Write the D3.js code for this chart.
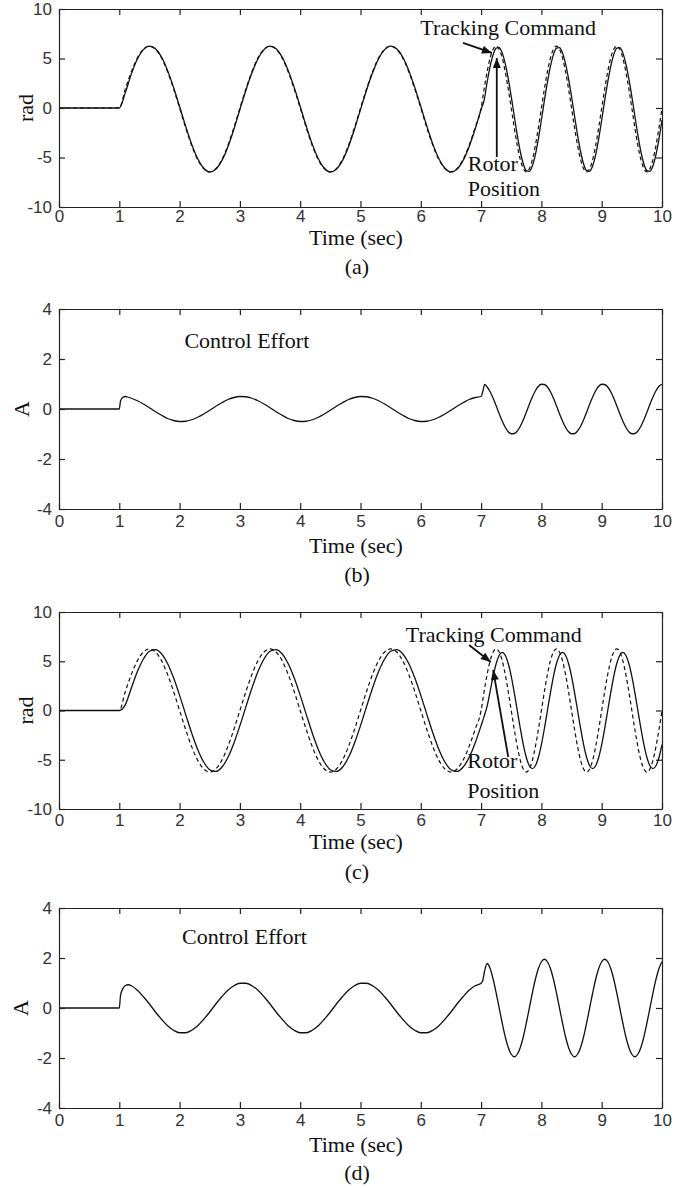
<!DOCTYPE html>
<html>
<head>
<meta charset="utf-8">
<script src="https://cdn.jsdelivr.net/npm/d3@7"></script>
<style>
  body { margin: 0; background: #fff; }
  .tick text { font-family: "Liberation Sans", Arial, sans-serif; font-size: 17px; fill: #333; }
  .tick line, .domain { stroke: #222; stroke-width: 1.2; }
  .serif { font-family: "Liberation Serif", "Times New Roman", serif; font-size: 22px; fill: #111; }
</style>
</head>
<body>
<div id="fig"></div>
<script>
// ---- data ----

// time samples for the position plots (a) and (c)
const tPos = [0,
  1.0, 1.1, 1.2, 1.3, 1.4, 1.5, 1.6, 1.7, 1.8, 1.9,
  2.0, 2.1, 2.2, 2.3, 2.4, 2.5, 2.6, 2.7, 2.8, 2.9,
  3.0, 3.1, 3.2, 3.3, 3.4, 3.5, 3.6, 3.7, 3.8, 3.9,
  4.0, 4.1, 4.2, 4.3, 4.4, 4.5, 4.6, 4.7, 4.8, 4.9,
  5.0, 5.1, 5.2, 5.3, 5.4, 5.5, 5.6, 5.7, 5.8, 5.9,
  6.0, 6.1, 6.2, 6.3, 6.4, 6.5, 6.6, 6.7, 6.8, 6.9,
  7.0,
  7.05, 7.1, 7.15, 7.2, 7.25, 7.3, 7.35, 7.4, 7.45, 7.5, 7.55, 7.6, 7.65, 7.7, 7.75, 7.8, 7.85, 7.9, 7.95, 8.0,
  8.05, 8.1, 8.15, 8.2, 8.25, 8.3, 8.35, 8.4, 8.45, 8.5, 8.55, 8.6, 8.65, 8.7, 8.75, 8.8, 8.85, 8.9, 8.95, 9.0,
  9.05, 9.1, 9.15, 9.2, 9.25, 9.3, 9.35, 9.4, 9.45, 9.5, 9.55, 9.6, 9.65, 9.7, 9.75, 9.8, 9.85, 9.9, 9.95, 10.0];

// (a) tracking command (dashed) and rotor position (solid), rad
const cmdA = [0,
  0, 1.93, 3.67, 5.06, 5.94, 6.25, 5.94, 5.06, 3.67, 1.93,
  0, -1.99, -3.79, -5.22, -6.13, -6.45, -6.13, -5.22, -3.79, -1.99,
  0, 1.93, 3.67, 5.06, 5.94, 6.25, 5.94, 5.06, 3.67, 1.93,
  0, -1.99, -3.79, -5.22, -6.13, -6.45, -6.13, -5.22, -3.79, -1.99,
  0, 1.93, 3.67, 5.06, 5.94, 6.25, 5.94, 5.06, 3.67, 1.93,
  0, -1.99, -3.79, -5.22, -6.13, -6.45, -6.13, -5.22, -3.79, -1.99,
  0,
  1.93, 3.67, 5.06, 5.94, 6.25, 5.94, 5.06, 3.67, 1.93, 0, -1.99, -3.79, -5.22, -6.13, -6.45, -6.13, -5.22, -3.79, -1.99, 0,
  1.93, 3.67, 5.06, 5.94, 6.25, 5.94, 5.06, 3.67, 1.93, 0, -1.99, -3.79, -5.22, -6.13, -6.45, -6.13, -5.22, -3.79, -1.99, 0,
  1.93, 3.67, 5.06, 5.94, 6.25, 5.94, 5.06, 3.67, 1.93, 0, -1.99, -3.79, -5.22, -6.13, -6.45, -6.13, -5.22, -3.79, -1.99, 0];

const rotA = [0,
  0, 1.55, 3.45, 4.95, 5.9, 6.25, 5.98, 5.15, 3.8, 2.08,
  0.15, -1.83, -3.65, -5.12, -6.08, -6.45, -6.18, -5.32, -3.93, -2.15,
  -0.15, 1.8, 3.55, 4.98, 5.9, 6.25, 5.98, 5.15, 3.8, 2.08,
  0.15, -1.83, -3.65, -5.12, -6.08, -6.45, -6.18, -5.32, -3.93, -2.15,
  -0.15, 1.8, 3.55, 4.98, 5.9, 6.25, 5.98, 5.15, 3.8, 2.08,
  0.15, -1.83, -3.65, -5.12, -6.08, -6.45, -6.18, -5.32, -3.93, -2.15,
  -0.15,
  0.77, 2.62, 4.21, 5.39, 6.04, 6.1, 5.57, 4.48, 2.96, 1.15, -0.81, -2.75, -4.42, -5.65, -6.33, -6.4, -5.84, -4.7, -3.11, -1.21,
  0.77, 2.62, 4.21, 5.39, 6.04, 6.1, 5.57, 4.48, 2.96, 1.15, -0.81, -2.75, -4.42, -5.65, -6.33, -6.4, -5.84, -4.7, -3.11, -1.21,
  0.77, 2.62, 4.21, 5.39, 6.04, 6.1, 5.57, 4.48, 2.96, 1.15, -0.81, -2.75, -4.42, -5.65, -6.33, -6.4, -5.84, -4.7, -3.11, -1.21];

// (c) tracking command (dashed) and rotor position (solid), rad
const cmdC = [0,
  0, 1.93, 3.67, 5.06, 5.94, 6.25, 5.94, 5.06, 3.67, 1.93,
  0, -1.93, -3.67, -5.06, -5.94, -6.25, -5.94, -5.06, -3.67, -1.93,
  0, 1.93, 3.67, 5.06, 5.94, 6.25, 5.94, 5.06, 3.67, 1.93,
  0, -1.93, -3.67, -5.06, -5.94, -6.25, -5.94, -5.06, -3.67, -1.93,
  0, 1.93, 3.67, 5.06, 5.94, 6.25, 5.94, 5.06, 3.67, 1.93,
  0, -1.93, -3.67, -5.06, -5.94, -6.25, -5.94, -5.06, -3.67, -1.93,
  0,
  1.93, 3.67, 5.06, 5.94, 6.25, 5.94, 5.06, 3.67, 1.93, 0, -1.93, -3.67, -5.06, -5.94, -6.25, -5.94, -5.06, -3.67, -1.93, 0,
  1.93, 3.67, 5.06, 5.94, 6.25, 5.94, 5.06, 3.67, 1.93, 0, -1.93, -3.67, -5.06, -5.94, -6.25, -5.94, -5.06, -3.67, -1.93, 0,
  1.93, 3.67, 5.06, 5.94, 6.25, 5.94, 5.06, 3.67, 1.93, 0, -1.93, -3.67, -5.06, -5.94, -6.25, -5.94, -5.06, -3.67, -1.93, 0];

const rotC = [0,
  0, 0.6, 2.28, 3.95, 5.23, 6.01, 6.19, 5.76, 4.78, 3.32,
  1.54, -0.39, -2.28, -3.95, -5.23, -6.01, -6.19, -5.76, -4.78, -3.32,
  -1.54, 0.39, 2.28, 3.95, 5.23, 6.01, 6.19, 5.76, 4.78, 3.32,
  1.54, -0.39, -2.28, -3.95, -5.23, -6.01, -6.19, -5.76, -4.78, -3.32,
  -1.54, 0.39, 2.28, 3.95, 5.23, 6.01, 6.19, 5.76, 4.78, 3.32,
  1.54, -0.39, -2.28, -3.95, -5.23, -6.01, -6.19, -5.76, -4.78, -3.32,
  -1.54,
  -0.6, 0.45, 1.95, 3.5, 4.77, 5.61, 5.9, 5.61, 4.77, 3.47, 1.82, 0, -1.82, -3.47, -4.77, -5.61, -5.9, -5.61, -4.77, -3.47,
  -1.82, 0, 1.82, 3.47, 4.77, 5.61, 5.9, 5.61, 4.77, 3.47, 1.82, 0, -1.82, -3.47, -4.77, -5.61, -5.9, -5.61, -4.77, -3.47,
  -1.82, 0, 1.82, 3.47, 4.77, 5.61, 5.9, 5.61, 4.77, 3.47, 1.82, 0, -1.82, -3.47, -4.77, -5.61, -5.9, -5.61, -4.77, -3.47];

// time samples for the control effort plots (b) and (d)
const tEff = [0, 1.0, 1.02, 1.06, 1.1, 1.15,
  1.2, 1.3, 1.4, 1.5, 1.6, 1.7, 1.8, 1.9,
  2.0, 2.1, 2.2, 2.3, 2.4, 2.5, 2.6, 2.7, 2.8, 2.9,
  3.0, 3.1, 3.2, 3.3, 3.4, 3.5, 3.6, 3.7, 3.8, 3.9,
  4.0, 4.1, 4.2, 4.3, 4.4, 4.5, 4.6, 4.7, 4.8, 4.9,
  5.0, 5.1, 5.2, 5.3, 5.4, 5.5, 5.6, 5.7, 5.8, 5.9,
  6.0, 6.1, 6.2, 6.3, 6.4, 6.5, 6.6, 6.7, 6.8, 6.9,
  7.0, 7.03, 7.06, 7.1,
  7.15, 7.2, 7.25, 7.3, 7.35, 7.4, 7.45, 7.5, 7.55, 7.6, 7.65, 7.7, 7.75, 7.8, 7.85, 7.9, 7.95, 8.0, 8.05, 8.1,
  8.15, 8.2, 8.25, 8.3, 8.35, 8.4, 8.45, 8.5, 8.55, 8.6, 8.65, 8.7, 8.75, 8.8, 8.85, 8.9, 8.95, 9.0, 9.05, 9.1,
  9.15, 9.2, 9.25, 9.3, 9.35, 9.4, 9.45, 9.5, 9.55, 9.6, 9.65, 9.7, 9.75, 9.8, 9.85, 9.9, 9.95, 10.0];

// (b) control effort, A
const effB = [0, 0, 0.32, 0.47, 0.5, 0.47,
  0.43, 0.33, 0.2, 0.05, -0.11, -0.25, -0.38, -0.46,
  -0.5, -0.49, -0.43, -0.33, -0.2, -0.05, 0.11, 0.25, 0.38, 0.46,
  0.5, 0.49, 0.43, 0.33, 0.2, 0.05, -0.11, -0.25, -0.38, -0.46,
  -0.5, -0.49, -0.43, -0.33, -0.2, -0.05, 0.11, 0.25, 0.38, 0.46,
  0.5, 0.49, 0.43, 0.33, 0.2, 0.05, -0.11, -0.25, -0.38, -0.46,
  -0.5, -0.49, -0.43, -0.33, -0.2, -0.05, 0.11, 0.25, 0.38, 0.46,
  0.5, 0.72, 0.98, 0.88,
  0.69, 0.43, 0.13, -0.19, -0.48, -0.73, -0.91, -0.99, -0.98, -0.88, -0.69, -0.43, -0.13, 0.19, 0.48, 0.73, 0.91, 0.99, 0.98, 0.88,
  0.69, 0.43, 0.13, -0.19, -0.48, -0.73, -0.91, -0.99, -0.98, -0.88, -0.69, -0.43, -0.13, 0.19, 0.48, 0.73, 0.91, 0.99, 0.98, 0.88,
  0.69, 0.43, 0.13, -0.19, -0.48, -0.73, -0.91, -0.99, -0.98, -0.88, -0.69, -0.43, -0.13, 0.19, 0.48, 0.73, 0.91, 0.99];

// (d) control effort, A
const effD = [0, 0, 0.5, 0.78, 0.9, 0.93,
  0.89, 0.71, 0.45, 0.16, -0.16, -0.45, -0.71, -0.89,
  -0.99, -0.99, -0.89, -0.71, -0.45, -0.16, 0.16, 0.45, 0.71, 0.89,
  0.99, 0.99, 0.89, 0.71, 0.45, 0.16, -0.16, -0.45, -0.71, -0.89,
  -0.99, -0.99, -0.89, -0.71, -0.45, -0.16, 0.16, 0.45, 0.71, 0.89,
  0.99, 0.99, 0.89, 0.71, 0.45, 0.16, -0.16, -0.45, -0.71, -0.89,
  -0.99, -0.99, -0.89, -0.71, -0.45, -0.16, 0.16, 0.45, 0.71, 0.89,
  0.99, 1.12, 1.5, 1.78,
  1.58, 1.15, 0.6, 0, -0.6, -1.15, -1.58, -1.85, -1.95, -1.85, -1.58, -1.15, -0.6, 0, 0.6, 1.15, 1.58, 1.85, 1.95, 1.85,
  1.58, 1.15, 0.6, 0, -0.6, -1.15, -1.58, -1.85, -1.95, -1.85, -1.58, -1.15, -0.6, 0, 0.6, 1.15, 1.58, 1.85, 1.95, 1.85,
  1.58, 1.15, 0.6, 0, -0.6, -1.15, -1.58, -1.85, -1.95, -1.85, -1.58, -1.15, -0.6, 0, 0.6, 1.15, 1.58, 1.85];

// tick values
const xTicks = [0, 1, 2, 3, 4, 5, 6, 7, 8, 9, 10];
const radTicks = [-10, -5, 0, 5, 10];
const ampTicks = [-4, -2, 0, 2, 4];

// ---- layout ----
const W = 690, H = 1188;
const plotLeft = 59, plotRight = 662;

const svg = d3.select('#fig')
  .append('svg')
  .attr('width', W)
  .attr('height', H);

svg.append('rect').attr('width', W).attr('height', H).attr('fill', '#fff');

// arrow head marker
svg.append('defs').append('marker')
  .attr('id', 'arrow')
  .attr('viewBox', '0 0 10 8')
  .attr('refX', 10)
  .attr('refY', 4)
  .attr('markerUnits', 'userSpaceOnUse')
  .attr('markerWidth', 12)
  .attr('markerHeight', 8)
  .attr('orient', 'auto')
  .append('path')
  .attr('d', 'M0,0L10,4L0,8Z')
  .attr('fill', '#111');

let x = d3.scaleLinear().domain([0, 10]).range([plotLeft, plotRight]);

function drawPanel(p) {
  let y = d3.scaleLinear().domain(p.yDomain).range([p.bottom, p.top]);
  let g = svg.append('g');

  // series
  p.series.forEach(function (s) {
    let pts = s.t.map(function (t, i) { return [t, s.v[i]]; });
    let line = d3.line()
      .x(function (d) { return x(d[0]); })
      .y(function (d) { return y(d[1]); })
      .curve(d3.curveMonotoneX);
    g.append('path')
      .datum(pts)
      .attr('fill', 'none')
      .attr('stroke', '#111')
      .attr('stroke-width', s.dash ? 1.2 : 1.3)
      .attr('stroke-dasharray', s.dash ? '4,3' : null)
      .attr('d', line);
  });

  // box with inward ticks on all four sides
  g.append('g')
    .attr('transform', 'translate(0,' + p.bottom + ')')
    .call(d3.axisBottom(x).tickValues(xTicks).tickSizeInner(-6).tickSizeOuter(0)
      .tickPadding(p.xPad).tickFormat(function (d) { return String(d); }));
  g.append('g')
    .attr('transform', 'translate(0,' + p.top + ')')
    .call(d3.axisTop(x).tickValues(xTicks).tickSizeInner(-6).tickSizeOuter(0).tickFormat(''));
  g.append('g')
    .attr('transform', 'translate(' + plotLeft + ',0)')
    .call(d3.axisLeft(y).tickValues(p.yTicks).tickSizeInner(-6).tickSizeOuter(0)
      .tickPadding(7).tickFormat(function (d) { return String(d); }));
  g.append('g')
    .attr('transform', 'translate(' + plotRight + ',0)')
    .call(d3.axisRight(y).tickValues(p.yTicks).tickSizeInner(-6).tickSizeOuter(0).tickFormat(''));

  // y label
  g.append('text')
    .attr('class', 'serif')
    .attr('transform', 'translate(' + p.yLabelX + ',' + (p.top + p.bottom) / 2 + ') rotate(-90)')
    .attr('text-anchor', 'middle')
    .attr('dy', '0.35em')
    .text(p.yLabel);

  // x label and caption
  g.append('text')
    .attr('class', 'serif')
    .attr('x', 356)
    .attr('y', p.bottom + p.timeOff)
    .attr('text-anchor', 'middle')
    .attr('dy', '0.35em')
    .text('Time (sec)');
  g.append('text')
    .attr('class', 'serif')
    .attr('x', 357)
    .attr('y', p.bottom + p.capOff)
    .attr('text-anchor', 'middle')
    .attr('dy', '0.35em')
    .text(p.caption);

  // annotations
  (p.notes || []).forEach(function (n) {
    g.append('text')
      .attr('class', 'serif')
      .attr('x', x(n.t))
      .attr('y', y(n.v))
      .attr('text-anchor', n.anchor)
      .attr('dy', '0.35em')
      .text(n.text);
  });
  (p.arrows || []).forEach(function (a) {
    g.append('line')
      .attr('x1', x(a[0])).attr('y1', y(a[1]))
      .attr('x2', x(a[2])).attr('y2', y(a[3]))
      .attr('stroke', '#111')
      .attr('stroke-width', 1.8)
      .attr('marker-end', 'url(#arrow)');
  });
}

drawPanel({
  top: 9, bottom: 207, yDomain: [-10, 10], yTicks: radTicks,
  yLabel: 'rad', yLabelX: 25, xPad: 3, timeOff: 30, capOff: 59, caption: '(a)',
  series: [{ t: tPos, v: rotA, dash: false }, { t: tPos, v: cmdA, dash: true }],
  notes: [
    { text: 'Tracking Command', t: 7.45, v: 8.18, anchor: 'middle' },
    { text: 'Rotor', t: 6.78, v: -5.56, anchor: 'start' },
    { text: 'Position', t: 6.78, v: -8.08, anchor: 'start' }
  ],
  arrows: [[6.70, 6.57, 7.18, 5.56], [7.26, -4.95, 7.26, 5.05]]
});

drawPanel({
  top: 309, bottom: 509, yDomain: [-4, 4], yTicks: ampTicks,
  yLabel: 'A', yLabelX: 21, xPad: 6, timeOff: 36, capOff: 65, caption: '(b)',
  series: [{ t: tEff, v: effB, dash: false }],
  notes: [{ text: 'Control Effort', t: 2.08, v: 2.76, anchor: 'start' }]
});

drawPanel({
  top: 612, bottom: 809, yDomain: [-10, 10], yTicks: radTicks,
  yLabel: 'rad', yLabelX: 25, xPad: 5, timeOff: 32, capOff: 62, caption: '(c)',
  series: [{ t: tPos, v: rotC, dash: false }, { t: tPos, v: cmdC, dash: true }],
  notes: [
    { text: 'Tracking Command', t: 7.21, v: 7.77, anchor: 'middle' },
    { text: 'Rotor', t: 6.77, v: -5.03, anchor: 'start' },
    { text: 'Position', t: 6.77, v: -8.07, anchor: 'start' }
  ],
  arrows: [[6.80, 6.65, 7.16, 4.92], [7.45, -4.72, 7.20, 4.11]]
});

drawPanel({
  top: 908, bottom: 1108, yDomain: [-4, 4], yTicks: ampTicks,
  yLabel: 'A', yLabelX: 20, xPad: 6, timeOff: 36, capOff: 64, caption: '(d)',
  series: [{ t: tEff, v: effD, dash: false }],
  notes: [{ text: 'Control Effort', t: 2.04, v: 2.85, anchor: 'start' }]
});
</script>
</body>
</html>
